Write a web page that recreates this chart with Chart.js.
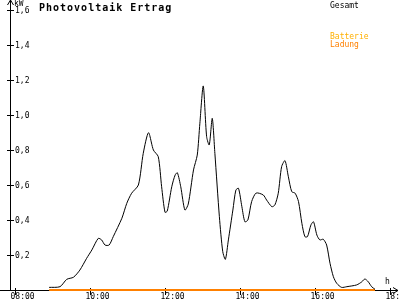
<!DOCTYPE html>
<html>
<head>
<meta charset="utf-8">
<script src="https://cdn.jsdelivr.net/npm/chart.js@4"></script>
<style>
    html, body { margin: 0; padding: 0; background: #fff; }
    #wrap { width: 400px; height: 300px; }
</style>
</head>
<body>
<div id="wrap"><canvas id="graficPV" width="400" height="300"></canvas></div>
<script>
// Uhrzeit in Stunden (dezimal)
let zeit = [8.91, 9.2, 9.38, 9.56, 9.73, 9.91, 10.05, 10.22, 10.31, 10.4, 10.51, 10.62, 10.85, 10.98, 11.11, 11.29,
    11.42, 11.56, 11.69, 11.82, 11.91, 12.0, 12.06, 12.18, 12.27, 12.33, 12.42, 12.53, 12.62, 12.76, 12.86, 12.93,
    13.02, 13.11, 13.18, 13.26, 13.33, 13.45, 13.54, 13.61, 13.69, 13.81, 13.89, 13.96, 14.05, 14.13, 14.21, 14.31,
    14.43, 14.62, 14.71, 14.85, 14.93, 15.02, 15.11, 15.2, 15.29, 15.38, 15.47, 15.56, 15.65, 15.73, 15.8, 15.89,
    15.96, 16.05, 16.13, 16.22, 16.31, 16.4, 16.49, 16.58, 16.71, 16.85, 17.11, 17.25, 17.33, 17.42, 17.51, 17.6]
// Gesamt in kW
let gesamt = [0.015, 0.019, 0.061, 0.073, 0.114, 0.181, 0.229, 0.295, 0.286, 0.257, 0.257, 0.305, 0.41, 0.495, 0.553, 0.6,
    0.781, 0.899, 0.8, 0.762, 0.59, 0.444, 0.451, 0.59, 0.657, 0.67, 0.59, 0.457, 0.491, 0.686, 0.771, 0.953,
    1.166, 0.876, 0.829, 0.981, 0.781, 0.419, 0.219, 0.175, 0.286, 0.457, 0.571, 0.581, 0.476, 0.39, 0.4, 0.505,
    0.554, 0.543, 0.514, 0.476, 0.486, 0.553, 0.705, 0.739, 0.647, 0.562, 0.553, 0.505, 0.381, 0.305, 0.305, 0.371,
    0.39, 0.314, 0.286, 0.29, 0.257, 0.153, 0.076, 0.038, 0.015, 0.019, 0.029, 0.047, 0.063, 0.047, 0.019, 0.004]
// Batterie Ladung
let ladungZeit = [8.91, 17.6]
let ladung = [0, 0]

let yTicks = [0.2, 0.4, 0.6, 0.8, 1.0, 1.2, 1.4, 1.6]
let xTicks = [8, 10, 12, 14, 16, 18]

let schrift = '8px "DejaVu Sans Mono"'

// Achsen, Titel und Legende selbst zeichnen (Stil wie Vorlage)
let achsenPlugin = {
    id: 'achsen',
    beforeDatasetsDraw(chart) {
        const ctx = chart.ctx
        const xs = chart.scales.x, ys = chart.scales.y
        const x0 = xs.getPixelForValue(xs.min)
        const y0 = ys.getPixelForValue(0)
        const xEnd = xs.getPixelForValue(xs.max)
        const yTop = ys.getPixelForValue(ys.max)

        ctx.save()
        ctx.strokeStyle = '#000'
        ctx.lineWidth = 1
        ctx.beginPath()
        // y-Achse mit Pfeil
        ctx.moveTo(x0 + 0.5, y0 + 1)
        ctx.lineTo(x0 + 0.5, yTop)
        ctx.moveTo(x0 - 2.5, yTop + 5)
        ctx.lineTo(x0 + 0.5, yTop)
        ctx.lineTo(x0 + 3.5, yTop + 5)
        // x-Achse mit Pfeil
        ctx.moveTo(0, y0 + 0.5)
        ctx.lineTo(xEnd + 1, y0 + 0.5)
        ctx.moveTo(xEnd - 4, y0 - 2.5)
        ctx.lineTo(xEnd + 1, y0 + 0.5)
        ctx.lineTo(xEnd - 4, y0 + 3.5)
        ctx.stroke()

        ctx.font = schrift
        ctx.fillStyle = '#000'
        ctx.textBaseline = 'middle'
        ctx.textAlign = 'left'
        ctx.beginPath()
        yTicks.forEach(v => {
            const y = Math.round(ys.getPixelForValue(v)) + 0.5
            ctx.moveTo(x0 - 3, y)
            ctx.lineTo(x0 + 4, y)
            ctx.fillText(v.toFixed(1).replace('.', ','), x0 + 5, y + 0.5)
        })
        ctx.textBaseline = 'top'
        xTicks.forEach(h => {
            const x = Math.round(xs.getPixelForValue(h)) + 0.5
            ctx.moveTo(x, y0 - 2)
            ctx.lineTo(x, y0 + 5)
            ctx.fillText(String(h).padStart(2, '0') + ':00', x - 5, y0 + 3)
        })
        ctx.stroke()

        ctx.fillText('kW', x0 + 4, 0)
        ctx.fillText('h', xEnd - 12, y0 - 12)

        // Titel
        ctx.font = 'bold 10px "DejaVu Sans Mono"'
        ctx.letterSpacing = '1px'
        ctx.textBaseline = 'alphabetic'
        ctx.fillText('Photovoltaik Ertrag', 39, 11)
        ctx.letterSpacing = '0px'

        // Legende
        ctx.font = schrift
        ctx.fillStyle = '#000'
        ctx.fillText('Gesamt', 330, 7.5)
        ctx.fillStyle = '#ffb000'
        ctx.fillText('Batterie', 330, 39)
        ctx.fillStyle = '#ff8000'
        ctx.fillText('Ladung', 330, 47)
        ctx.restore()
    }
}

let graficPV = document.getElementById('graficPV')

window.graficoPV = new Chart(graficPV, {
    type: 'line',
    data: {
        datasets: [{
            label: 'Gesamt',
            data: zeit.map((t, i) => ({ x: t, y: gesamt[i] })),
            borderColor: '#000',
            borderWidth: 1,
            pointRadius: 0,
            tension: 0.25,
            fill: false,
            clip: false
        }, {
            label: 'Ladung',
            data: ladungZeit.map((t, i) => ({ x: t, y: ladung[i] })),
            borderColor: '#ff8000',
            borderWidth: 2,
            pointRadius: 0,
            fill: false,
            clip: false
        }]
    },
    options: {
        responsive: false,
        animation: false,
        layout: { padding: { left: 10, right: 3, top: 0, bottom: 10 } },
        plugins: {
            legend: { display: false },
            tooltip: { enabled: false }
        },
        scales: {
            x: { type: 'linear', display: false, min: 8 - 5 / 37.5, max: 8 - 5 / 37.5 + 387 / 37.5 },
            y: { display: false, min: 0, max: 290 / 175 }
        }
    },
    plugins: [achsenPlugin]
})
</script>
</body>
</html>
